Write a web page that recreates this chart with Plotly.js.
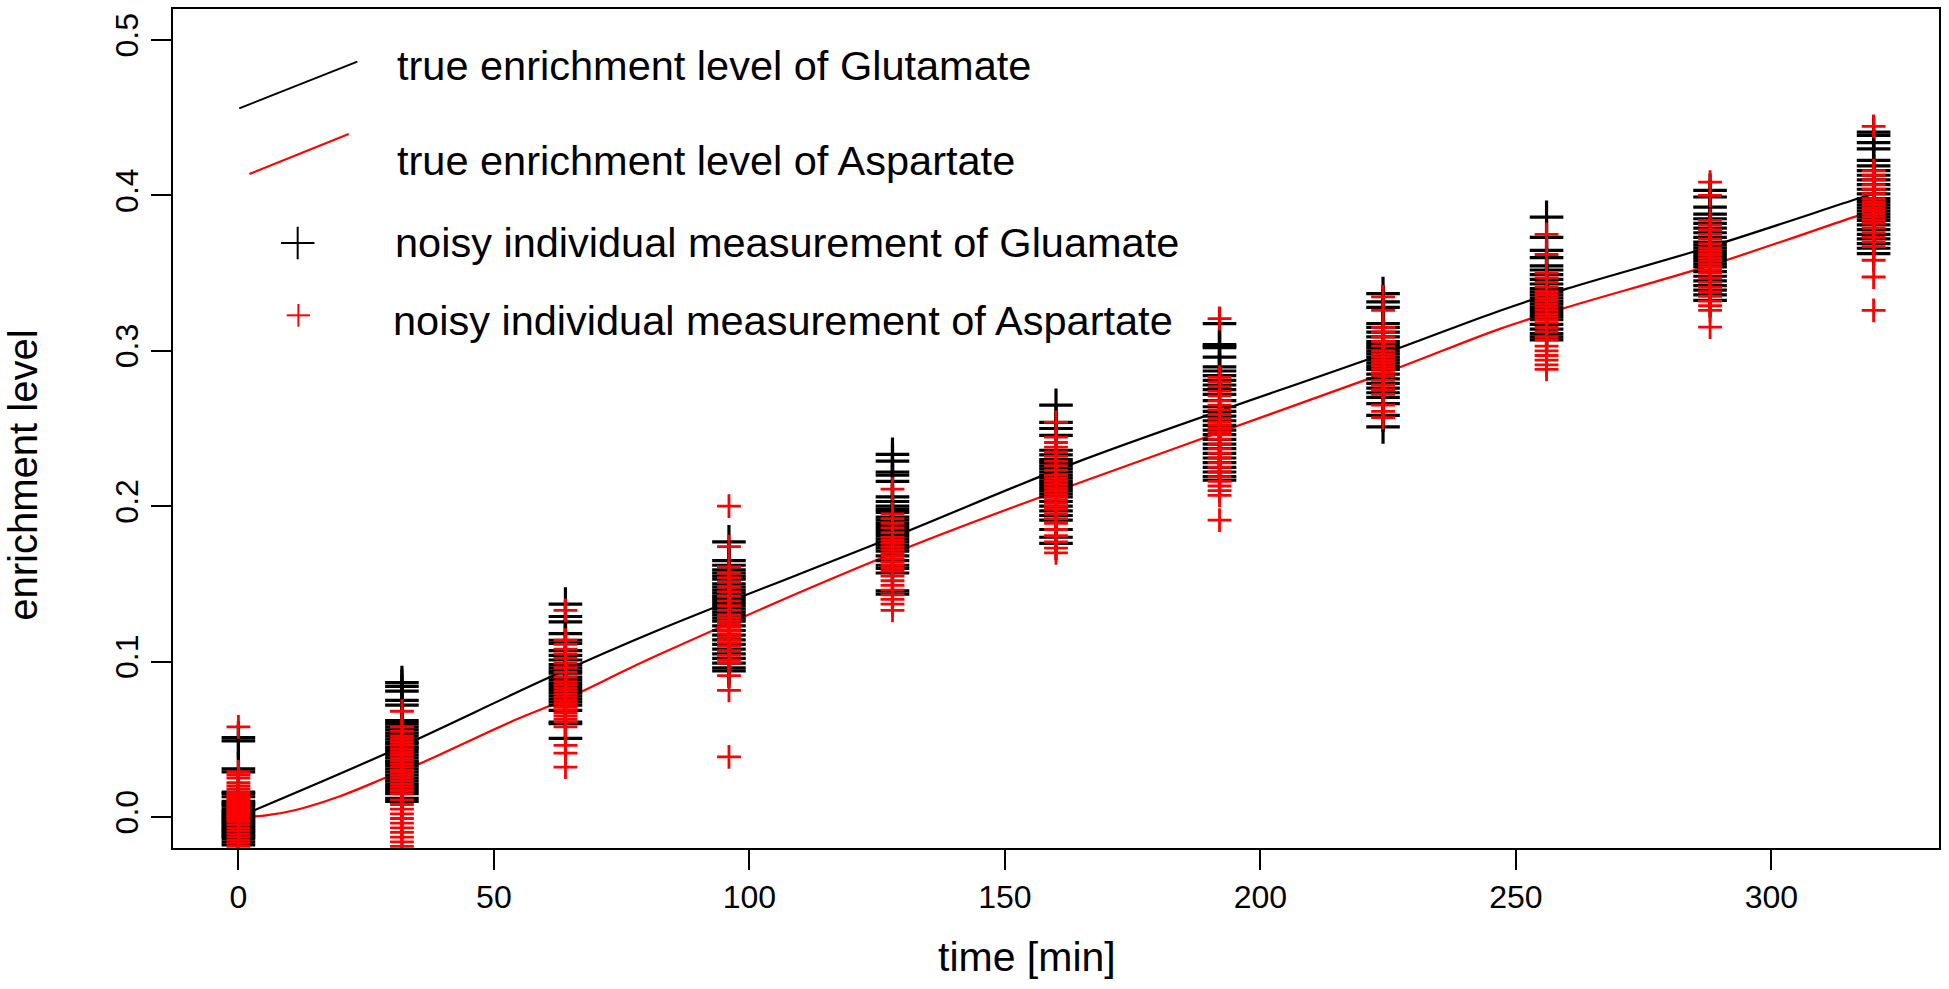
<!DOCTYPE html>
<html>
<head>
<meta charset="utf-8">
<script src="https://cdn.plot.ly/plotly-3.0.1.min.js"></script>
<style>
  html, body { margin: 0; padding: 0; background: #fff; }
  #chart { width: 1949px; height: 989px; }
</style>
</head>
<body>
<div id="chart"></div>
<script>
// sampling times [min]
const times = [0, 32, 64, 96, 128, 160, 192, 224, 256, 288, 320];

const glutamateByTime = [
  [0.051, 0.049, 0.031, 0.029, 0.016, 0.015, 0.013, 0.010, 0.009, 0.008, 0.007, 0.005, 0.004, 0.003,
   0.002, 0.001, 0.000, -0.001, -0.002, -0.003, -0.004, -0.005, -0.006, -0.007, -0.008, -0.009,
   -0.010, -0.011, -0.012, -0.013, -0.014, -0.016, -0.018],
  [0.0865, 0.084, 0.081, 0.075, 0.072, 0.062, 0.060, 0.058, 0.056, 0.054, 0.052, 0.050, 0.048, 0.047,
   0.045, 0.044, 0.042, 0.040, 0.038, 0.036, 0.035, 0.033, 0.031, 0.029, 0.027, 0.025, 0.023, 0.021,
   0.019, 0.017, 0.015, 0.012, 0.010],
  [0.137, 0.129, 0.1255, 0.118, 0.1137, 0.1117, 0.107, 0.104, 0.101, 0.098, 0.096, 0.094, 0.0925,
   0.090, 0.088, 0.086, 0.084, 0.082, 0.080, 0.078, 0.076, 0.074, 0.072, 0.0686, 0.061, 0.060, 0.0506],
  [0.177, 0.165, 0.162, 0.159, 0.157, 0.155, 0.153, 0.150, 0.148, 0.146, 0.144, 0.142, 0.140, 0.138,
   0.136, 0.134, 0.132, 0.130, 0.128, 0.126, 0.123, 0.120, 0.117, 0.114, 0.111, 0.108, 0.105, 0.102,
   0.099, 0.096, 0.094],
  [0.2334, 0.229, 0.222, 0.220, 0.216, 0.206, 0.203, 0.200, 0.198, 0.196, 0.193, 0.191, 0.189, 0.187,
   0.185, 0.183, 0.181, 0.179, 0.177, 0.175, 0.173, 0.171, 0.168, 0.165, 0.162, 0.160, 0.157, 0.1455,
   0.1434],
  [0.265, 0.254, 0.250, 0.2456, 0.236, 0.233, 0.230, 0.228, 0.226, 0.224, 0.222, 0.220, 0.218, 0.216,
   0.214, 0.212, 0.210, 0.208, 0.206, 0.203, 0.200, 0.197, 0.194, 0.191, 0.185, 0.180, 0.176],
  [0.3175, 0.304, 0.303, 0.302, 0.296, 0.2896, 0.287, 0.284, 0.281, 0.278, 0.275, 0.272, 0.268, 0.264,
   0.261, 0.258, 0.255, 0.252, 0.249, 0.246, 0.243, 0.240, 0.237, 0.234, 0.231, 0.228, 0.225, 0.222,
   0.219, 0.2167],
  [0.3368, 0.3315, 0.328, 0.3175, 0.315, 0.312, 0.309, 0.306, 0.304, 0.302, 0.300, 0.298, 0.296, 0.294,
   0.292, 0.290, 0.288, 0.285, 0.282, 0.279, 0.276, 0.273, 0.270, 0.266, 0.2585, 0.251],
  [0.386, 0.373, 0.3646, 0.360, 0.3547, 0.352, 0.349, 0.346, 0.343, 0.340, 0.338, 0.336, 0.334, 0.332,
   0.330, 0.328, 0.326, 0.324, 0.322, 0.320, 0.317, 0.314, 0.311, 0.309, 0.307],
  [0.4033, 0.399, 0.3925, 0.388, 0.385, 0.382, 0.379, 0.376, 0.373, 0.370, 0.368, 0.366, 0.364, 0.362,
   0.360, 0.358, 0.356, 0.354, 0.351, 0.348, 0.345, 0.342, 0.339, 0.336, 0.3325],
  [0.4408, 0.4387, 0.434, 0.430, 0.4226, 0.419, 0.416, 0.413, 0.410, 0.407, 0.404, 0.401, 0.398, 0.396,
   0.394, 0.392, 0.390, 0.388, 0.386, 0.384, 0.381, 0.378, 0.375, 0.372, 0.369, 0.366, 0.3626],
];

const aspartateByTime = [
  [0.058, 0.029, 0.027, 0.025, 0.022, 0.020, 0.018, 0.016, 0.015, 0.014, 0.013, 0.012, 0.011, 0.010,
   0.009, 0.008, 0.007, 0.006, 0.005, 0.004, 0.003, 0.002, 0.001, 0.000, -0.001, -0.002, -0.003,
   -0.005, -0.007, -0.009, -0.011, -0.013, -0.015, -0.017, -0.019],
  [0.068, 0.058, 0.055, 0.052, 0.050, 0.048, 0.046, 0.044, 0.042, 0.040, 0.038, 0.036, 0.034, 0.032,
   0.030, 0.029, 0.027, 0.025, 0.023, 0.021, 0.019, 0.017, 0.015, 0.011, 0.008, 0.005, 0.002, -0.001,
   -0.004, -0.007, -0.010, -0.013, -0.016, -0.019],
  [0.133, 0.1137, 0.111, 0.108, 0.105, 0.102, 0.099, 0.096, 0.093, 0.090, 0.087, 0.085, 0.083, 0.081,
   0.079, 0.077, 0.075, 0.073, 0.071, 0.069, 0.067, 0.065, 0.063, 0.061, 0.058, 0.046, 0.041, 0.032],
  [0.200, 0.174, 0.161, 0.157, 0.154, 0.151, 0.148, 0.145, 0.142, 0.139, 0.136, 0.133, 0.130, 0.128,
   0.126, 0.124, 0.122, 0.120, 0.118, 0.116, 0.114, 0.112, 0.110, 0.107, 0.104, 0.101, 0.099, 0.091,
   0.0815, 0.0386],
  [0.211, 0.195, 0.192, 0.189, 0.186, 0.183, 0.180, 0.178, 0.176, 0.174, 0.172, 0.170, 0.168, 0.166,
   0.164, 0.162, 0.160, 0.158, 0.155, 0.152, 0.149, 0.146, 0.143, 0.140, 0.137, 0.133],
  [0.254, 0.2445, 0.241, 0.238, 0.235, 0.232, 0.229, 0.226, 0.223, 0.220, 0.218, 0.216, 0.214, 0.212,
   0.210, 0.208, 0.206, 0.204, 0.202, 0.200, 0.198, 0.195, 0.192, 0.189, 0.185, 0.181, 0.177, 0.173,
   0.170],
  [0.3207, 0.283, 0.280, 0.277, 0.274, 0.271, 0.268, 0.265, 0.262, 0.259, 0.256, 0.254, 0.252, 0.250,
   0.248, 0.246, 0.243, 0.240, 0.237, 0.234, 0.231, 0.228, 0.225, 0.222, 0.219, 0.216, 0.213, 0.210,
   0.207, 0.191],
  [0.3347, 0.326, 0.315, 0.312, 0.309, 0.306, 0.303, 0.300, 0.298, 0.296, 0.294, 0.292, 0.290, 0.288,
   0.286, 0.284, 0.281, 0.278, 0.275, 0.272, 0.265, 0.261, 0.257],
  [0.375, 0.362, 0.350, 0.347, 0.344, 0.341, 0.338, 0.336, 0.334, 0.332, 0.330, 0.328, 0.326, 0.324,
   0.322, 0.320, 0.318, 0.315, 0.312, 0.309, 0.307, 0.303, 0.300, 0.297, 0.294, 0.291, 0.288],
  [0.4086, 0.400, 0.384, 0.381, 0.378, 0.375, 0.372, 0.369, 0.366, 0.364, 0.362, 0.360, 0.358, 0.356,
   0.354, 0.352, 0.350, 0.347, 0.344, 0.341, 0.338, 0.335, 0.332, 0.329, 0.326, 0.3153],
  [0.4445, 0.416, 0.413, 0.410, 0.407, 0.404, 0.401, 0.398, 0.396, 0.394, 0.392, 0.390, 0.388, 0.386,
   0.384, 0.382, 0.379, 0.376, 0.373, 0.370, 0.367, 0.3583, 0.3475, 0.326],
];

// true enrichment curves
const glutamateCurveTime = [0, 29, 61, 82, 128, 165, 224, 247, 260, 288, 317, 320];
const glutamateCurveLevel = [0, 0.041, 0.090, 0.120, 0.180, 0.2295, 0.298, 0.326, 0.340, 0.367, 0.398, 0.401];
const aspartateCurveTime = [0, 5, 11, 20, 29, 35.5, 54, 63.5, 82, 128, 165, 224, 247, 260, 288, 317, 320];
const aspartateCurveLevel = [0, 0.0008, 0.0043, 0.0135, 0.0255, 0.0343, 0.0622, 0.0751, 0.104, 0.1695, 0.2156, 0.2853, 0.3143, 0.328, 0.355, 0.387, 0.390];

const xTicks = [0, 50, 100, 150, 200, 250, 300];
const yTicks = [0, 0.1, 0.2, 0.3, 0.4, 0.5];

const legendLabels = [
  "true enrichment level of Glutamate",
  "true enrichment level of Aspartate",
  "noisy individual measurement of Gluamate",
  "noisy individual measurement of Aspartate",
];

const FONT = "Liberation Sans, Arial, Helvetica, sans-serif";
const BLACK = "#000000";
const RED = "#ff0000";

function flatten(byTime) {
  const x = [];
  const y = [];
  byTime.forEach((values, i) => {
    values.forEach((v) => {
      x.push(times[i]);
      y.push(v);
    });
  });
  return { x, y };
}

const glu = flatten(glutamateByTime);
const asp = flatten(aspartateByTime);

const traces = [
  {
    x: glutamateCurveTime,
    y: glutamateCurveLevel,
    mode: "lines",
    line: { color: BLACK, width: 2.2, shape: "spline", smoothing: 1 },
    name: legendLabels[0],
  },
  {
    x: aspartateCurveTime,
    y: aspartateCurveLevel,
    mode: "lines",
    line: { color: RED, width: 2.2, shape: "spline", smoothing: 1 },
    name: legendLabels[1],
  },
  {
    x: glu.x,
    y: glu.y,
    mode: "markers",
    marker: { symbol: "cross-thin", size: 24, color: BLACK, line: { color: BLACK, width: 3.2 } },
    name: legendLabels[2],
  },
  {
    x: asp.x,
    y: asp.y,
    mode: "markers",
    marker: { symbol: "cross-thin", size: 17, color: RED, line: { color: RED, width: 2.8 } },
    name: legendLabels[3],
  },
];

// legend keys drawn like the original (slanted line samples and plus signs)
const keyLine = (x0, y0, x1, y1, color) => ({
  type: "line", xref: "paper", yref: "paper", x0, y0, x1, y1,
  line: { color, width: 2 },
});

const shapes = [
  keyLine(0.0375, 0.8816, 0.1044, 0.9372, BLACK),
  keyLine(0.0432, 0.8033, 0.0995, 0.8510, RED),
  keyLine(0.0612, 0.7211, 0.0801, 0.7211, BLACK),
  keyLine(0.0706, 0.7017, 0.0706, 0.7405, BLACK),
  keyLine(0.0644, 0.6349, 0.0776, 0.6349, RED),
  keyLine(0.0710, 0.6213, 0.0710, 0.6484, RED),
];

const legendText = (text, x, y) => ({
  xref: "paper", yref: "paper", x, y, text,
  xanchor: "left", yanchor: "middle", showarrow: false,
  font: { family: FONT, size: 41.5, color: BLACK },
});

const annotations = [
  legendText(legendLabels[0], 0.1257, 0.9327),
  legendText(legendLabels[1], 0.1257, 0.8194),
  legendText(legendLabels[2], 0.1246, 0.7220),
  legendText(legendLabels[3], 0.1234, 0.6290),
  {
    xref: "paper", yref: "paper", x: 0.4836, y: -0.1305,
    text: "time [min]", showarrow: false, xanchor: "center", yanchor: "middle",
    font: { family: FONT, size: 41, color: BLACK },
  },
  {
    xref: "paper", yref: "paper", x: -0.0851, y: 0.4446,
    text: "enrichment level", showarrow: false, textangle: -90,
    xanchor: "center", yanchor: "middle",
    font: { family: FONT, size: 40, color: BLACK },
  },
];

const axisCommon = {
  showgrid: false,
  zeroline: false,
  showline: true,
  mirror: true,
  linecolor: BLACK,
  linewidth: 2,
  ticks: "outside",
  ticklen: 20,
  tickwidth: 2,
  tickcolor: BLACK,
  tickfont: { family: FONT, size: 32, color: BLACK },
};

const layout = {
  width: 1949,
  height: 989,
  margin: { l: 173, r: 10, t: 9, b: 141 },
  paper_bgcolor: "#ffffff",
  plot_bgcolor: "#ffffff",
  showlegend: false,
  xaxis: {
    ...axisCommon,
    range: [-12.8, 332.8],
    tickmode: "array",
    tickvals: xTicks,
  },
  yaxis: {
    ...axisCommon,
    range: [-0.02, 0.52],
    tickmode: "array",
    tickvals: yTicks,
    tickformat: ".1f",
    tickangle: -90,
  },
  shapes,
  annotations,
};

Plotly.newPlot("chart", traces, layout, { staticPlot: true, displayModeBar: false });
</script>
</body>
</html>
